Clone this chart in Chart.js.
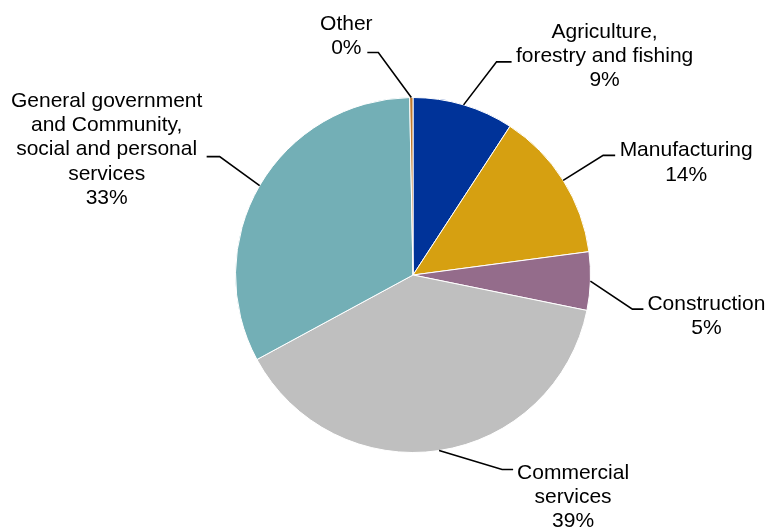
<!DOCTYPE html>
<html>
<head>
<meta charset="utf-8">
<script src="https://cdn.jsdelivr.net/npm/chart.js@4"></script>
<style>
  html, body { margin: 0; padding: 0; background: #ffffff; }
  #wrap { width: 768px; height: 527px; position: relative; }
</style>
</head>
<body>
<div id="wrap"><canvas id="chart"></canvas></div>
<script>
// Industry categories, each label split into its display lines
const categories = [
  ['Agriculture,', 'forestry and fishing'],
  ['Manufacturing'],
  ['Construction'],
  ['Commercial', 'services'],
  ['General government', 'and Community,', 'social and personal', 'services'],
  ['Other']
];

// Share of total (%)
const shares = [9.2, 13.7, 5.3, 38.9, 32.6, 0.3];

const sliceColors = ['#003399', '#D6A011', '#946C8B', '#BFBFBF', '#73AFB6', '#BF7A2E'];

// Leader-line geometry per slice: elbow offset from the slice edge,
// horizontal run, text centre offset and first-baseline offset
const leaderLayout = [
  { ex: 33,  ey: -43, run: 15,  tx: 93,   ty: -24 },
  { ex: 40,  ey: -25, run: 12,  tx: 71,   ty: 1 },
  { ex: 42,  ey: 28,  run: 11,  tx: 63,   ty: 1 },
  { ex: 63,  ey: 19,  run: 11,  tx: 60,   ty: 9 },
  { ex: -40, ey: -29, run: -13, tx: -100, ty: -50 },
  { ex: -33, ey: -45, run: -11, tx: -21,  ty: -23 }
];

const leaderLabels = {
  id: 'leaderLabels',
  afterDatasetsDraw(chart) {
    const ctx = chart.ctx;
    const meta = chart.getDatasetMeta(0);
    const values = chart.data.datasets[0].data;
    ctx.save();
    ctx.font = '21px "Liberation Sans", Arial, sans-serif';
    ctx.fillStyle = '#000000';
    ctx.textAlign = 'center';
    ctx.textBaseline = 'alphabetic';
    const lineH = 24.3;
    meta.data.forEach((arc, i) => {
      const p = arc.getProps(['x', 'y', 'startAngle', 'endAngle', 'outerRadius'], true);
      const mid = (p.startAngle + p.endAngle) / 2;
      const ax = p.x + Math.cos(mid) * p.outerRadius;
      const ay = p.y + Math.sin(mid) * p.outerRadius;
      const L = leaderLayout[i];
      const bx = ax + L.ex, by = ay + L.ey;
      const cx = bx + L.run;
      ctx.beginPath();
      ctx.strokeStyle = '#000000';
      ctx.lineWidth = 1.6;
      ctx.moveTo(ax, ay);
      ctx.lineTo(bx, by);
      ctx.lineTo(cx, by);
      ctx.stroke();
      const lines = categories[i].concat([Math.round(values[i]) + '%']);
      const tx = cx + L.tx;
      let ty = by + L.ty;
      lines.forEach((t, k) => {
        ctx.fillText(t, tx, ty + k * lineH);
      });
    });
    ctx.restore();
  }
};

new Chart(document.getElementById('chart'), {
  type: 'pie',
  data: {
    labels: categories.map(c => c.join(' ')),
    datasets: [{
      data: shares,
      backgroundColor: sliceColors,
      borderColor: '#ffffff',
      borderWidth: 1
    }]
  },
  options: {
    responsive: true,
    maintainAspectRatio: false,
    animation: false,
    layout: { padding: { left: 235, right: 177, top: 96, bottom: 73 } },
    plugins: {
      legend: { display: false },
      tooltip: { enabled: false }
    }
  },
  plugins: [leaderLabels]
});
</script>
</body>
</html>
